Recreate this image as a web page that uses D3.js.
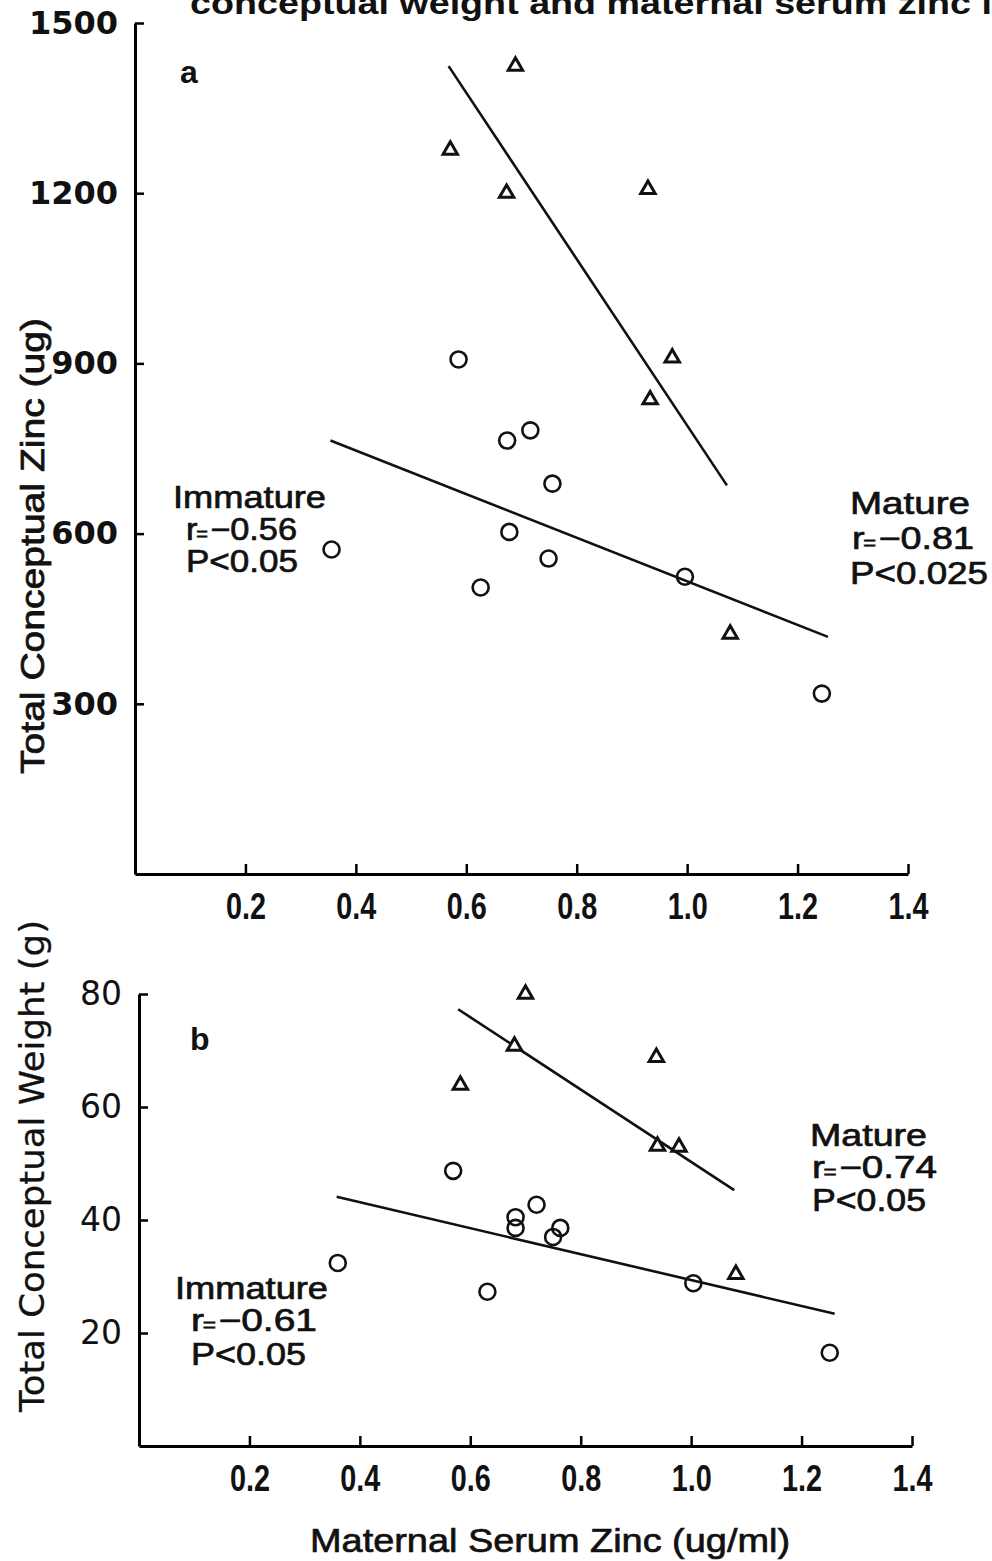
<!DOCTYPE html>
<html>
<head>
<meta charset="utf-8">
<script src="https://cdn.jsdelivr.net/npm/d3@7"></script>
<style>
  html, body { margin: 0; padding: 0; background: #fff; }
  svg { display: block; }
</style>
</head>
<body>
<svg id="chart" width="992" height="1561"></svg>
<script>
// ---- Panel a: total conceptual zinc (ug) vs maternal serum zinc (ug/ml)
const zincMatureX   = [0.689, 0.571, 0.673, 0.929, 0.973, 0.933, 1.078];
const zincMatureY   = [1424, 1276, 1200, 1207, 910, 836, 423];
const zincImmatureX = [0.356, 0.586, 0.674, 0.716, 0.756, 0.678, 0.749, 0.626, 0.996, 1.244];
const zincImmatureY = [572, 907, 764, 782, 688, 603, 556, 505, 524, 318];
const zincMatureFit   = [[0.568, 1424], [1.072, 685]];
const zincImmatureFit = [[0.354, 764], [1.255, 418]];

// ---- Panel b: total conceptual weight (g) vs maternal serum zinc (ug/ml)
const weightMatureX   = [0.700, 0.582, 0.680, 0.937, 0.939, 0.978, 1.081];
const weightMatureY   = [80.0, 63.9, 70.8, 68.8, 53.1, 52.9, 30.4];
const weightImmatureX = [0.360, 0.569, 0.631, 0.682, 0.682, 0.720, 0.750, 0.763, 1.004, 1.251];
const weightImmatureY = [32.4, 48.7, 27.3, 40.5, 38.6, 42.7, 37.0, 38.6, 28.8, 16.5];
const weightMatureFit   = [[0.578, 77.3], [1.078, 45.3]];
const weightImmatureFit = [[0.358, 44.1], [1.260, 23.4]];

// ---- Axis ticks
const xTicks = [0.2, 0.4, 0.6, 0.8, 1.0, 1.2, 1.4];
const zincTicks = [300, 600, 900, 1200, 1500];
const weightTicks = [20, 40, 60, 80];

// ---- Annotation text
const zincImmatureNote = ["Immature", "-0.56", "P<0.05"];
const zincMatureNote = ["Mature", "-0.81", "P<0.025"];
const weightImmatureNote = ["Immature", "-0.61", "P<0.05"];
const weightMatureNote = ["Mature", "-0.74", "P<0.05"];

const svg = d3.select("#chart");

// partial figure caption running off the top of the page
const cap = svg.append("text")
  .attr("x", 190).attr("y", 14)
  .attr("font-family", "Liberation Sans, Arial, sans-serif")
  .attr("font-weight", "bold")
  .attr("font-size", 31)
  .attr("fill", "#111")
  .text("conceptual weight and maternal serum zinc levels");

function panel(opts) {
  const x = d3.scaleLinear().domain([0, 1.4]).range([opts.x0, opts.x1]);
  const y = d3.scaleLinear().domain(opts.yDomain).range([opts.y0, opts.y1]);
  const g = svg.append("g");

  // x axis (ticks pointing up into the plot)
  const xa = g.append("g")
    .attr("transform", `translate(0,${opts.y0})`)
    .call(d3.axisBottom(x).tickValues(xTicks).tickFormat(d3.format(".1f"))
      .tickSize(-10).tickSizeOuter(0).tickPadding(19));
  xa.select(".domain").attr("stroke-width", 3);
  xa.selectAll(".tick line").attr("stroke-width", 2.5);
  xa.selectAll(".tick text")
    .attr("font-family", "Liberation Sans, Arial, sans-serif")
    .attr("font-weight", "bold")
    .attr("font-size", 36)
    .attr("fill", "#111")
    .each(function () {
      const len = this.getComputedTextLength();
      d3.select(this).attr("textLength", len * 0.8).attr("lengthAdjust", "spacingAndGlyphs");
    });

  // y axis (ticks pointing right into the plot)
  const ya = g.append("g")
    .attr("transform", `translate(${opts.x0},0)`)
    .call(d3.axisLeft(y).tickValues(opts.yTicks).tickFormat(d3.format("d"))
      .tickSize(-9).tickSizeOuter(0).tickPadding(opts.yPad));
  ya.select(".domain").attr("stroke-width", 3);
  ya.selectAll(".tick line").attr("stroke-width", 2.5);
  ya.selectAll(".tick text")
    .attr("font-family", opts.yFont)
    .attr("font-weight", opts.yWeight)
    .attr("font-size", opts.ySize)
    .attr("fill", "#111");

  // regression lines
  const line = d3.line().x(d => x(d[0])).y(d => y(d[1]));
  [opts.matureFit, opts.immatureFit].forEach(f => {
    g.append("path").attr("d", line(f))
      .attr("fill", "none").attr("stroke", "#111").attr("stroke-width", 2.6);
  });

  // immature: open circles
  g.selectAll(".imm").data(d3.range(opts.immX.length)).enter()
    .append("circle")
    .attr("cx", i => x(opts.immX[i]))
    .attr("cy", i => y(opts.immY[i]))
    .attr("r", 8)
    .attr("fill", "none").attr("stroke", "#111").attr("stroke-width", 2.6);

  // mature: open triangles
  const tri = d3.symbol().type(d3.symbolTriangle).size(90);
  g.selectAll(".mat").data(d3.range(opts.matX.length)).enter()
    .append("path")
    .attr("d", tri)
    .attr("transform", i => `translate(${x(opts.matX[i])},${y(opts.matY[i])})`)
    .attr("fill", "#fff").attr("stroke", "#111").attr("stroke-width", 3)
    .attr("stroke-linejoin", "miter");

  // panel letter
  g.append("text").attr("x", opts.letterX).attr("y", opts.letterY)
    .attr("font-family", "Liberation Sans, Arial, sans-serif")
    .attr("font-weight", "bold").attr("font-size", 32)
    .attr("fill", "#111").text(opts.letter);

  // y axis title
  g.append("text")
    .attr("transform", `translate(${opts.titleX},${opts.titleY}) rotate(-90)`)
    .attr("text-anchor", "middle")
    .attr("font-family", opts.titleFont)
    .attr("font-size", 34)
    .attr("fill", "#111")
    .attr("stroke", "#111").attr("stroke-width", opts.titleStroke)
    .attr("textLength", opts.titleLen).attr("lengthAdjust", "spacingAndGlyphs")
    .text(opts.title);

  // correlation notes
  function note(lines, pos, widths) {
    const t = g.append("g")
      .attr("font-family", "Liberation Sans, Arial, sans-serif")
      .attr("font-size", 31).attr("fill", "#111")
      .attr("stroke", "#111").attr("stroke-width", 0.7);
    t.append("text").attr("x", pos[0][0]).attr("y", pos[0][1])
      .attr("textLength", widths[0]).attr("lengthAdjust", "spacingAndGlyphs")
      .text(lines[0]);
    const r = t.append("text").attr("x", pos[1][0]).attr("y", pos[1][1])
      .attr("textLength", widths[1]).attr("lengthAdjust", "spacingAndGlyphs");
    r.append("tspan").text("r");
    r.append("tspan").attr("font-size", 18).attr("dx", -1).text("=");
    r.append("tspan").attr("dx", 2).text(lines[1].replace("-", "\u2212"));
    t.append("text").attr("x", pos[2][0]).attr("y", pos[2][1])
      .attr("textLength", widths[2]).attr("lengthAdjust", "spacingAndGlyphs")
      .text(lines[2]);
  }
  note(opts.immNote, opts.immPos, opts.immW);
  note(opts.matNote, opts.matPos, opts.matW);
}

panel({
  x0: 135, x1: 908, y0: 874, y1: 23, yDomain: [0, 1500], yTicks: zincTicks,
  yPad: 17, yFont: "DejaVu Sans, sans-serif", yWeight: "bold", ySize: 32,
  matX: zincMatureX, matY: zincMatureY, immX: zincImmatureX, immY: zincImmatureY,
  matureFit: zincMatureFit, immatureFit: zincImmatureFit,
  letter: "a", letterX: 180, letterY: 83,
  title: "Total Conceptual Zinc (ug)", titleX: 44, titleY: 546, titleLen: 456,
  titleFont: "Liberation Sans, Arial, sans-serif", titleStroke: 0.8,
  immNote: zincImmatureNote, immPos: [[173, 508], [186, 540], [186, 572]], immW: [153, 111, 112],
  matNote: zincMatureNote, matPos: [[850, 514], [852, 549], [850, 584]], matW: [120, 122, 138]
});

panel({
  x0: 139, x1: 912, y0: 1446, y1: 994, yDomain: [0, 80], yTicks: weightTicks,
  yPad: 17, yFont: "DejaVu Sans, sans-serif", yWeight: "normal", ySize: 33,
  matX: weightMatureX, matY: weightMatureY, immX: weightImmatureX, immY: weightImmatureY,
  matureFit: weightMatureFit, immatureFit: weightImmatureFit,
  letter: "b", letterX: 190, letterY: 1050,
  title: "Total Conceptual Weight (g)", titleX: 44, titleY: 1166, titleLen: 492,
  titleFont: "DejaVu Sans, sans-serif", titleStroke: 0.3,
  immNote: weightImmatureNote, immPos: [[175, 1299], [191, 1331], [191, 1365]], immW: [153, 126, 115],
  matNote: weightMatureNote, matPos: [[810, 1146], [812, 1178], [812, 1211]], matW: [117, 125, 114]
});

// shared x axis title
svg.append("text")
  .attr("x", 550).attr("y", 1552).attr("text-anchor", "middle")
  .attr("font-family", "Liberation Sans, Arial, sans-serif")
  .attr("font-size", 34).attr("fill", "#111")
  .attr("stroke", "#111").attr("stroke-width", 0.7)
  .attr("textLength", 480).attr("lengthAdjust", "spacingAndGlyphs")
  .text("Maternal Serum Zinc (ug/ml)");

// scale the caption so "...serum zinc l" reaches the right edge
(function () {
  const prefix = "conceptual weight and maternal serum zinc l";
  const w = cap.node().getSubStringLength(0, prefix.length);
  const s = (992 - 190) / w;
  cap.attr("transform", `translate(190,0) scale(${s},1) translate(-190,0)`);
})();
</script>
</body>
</html>
